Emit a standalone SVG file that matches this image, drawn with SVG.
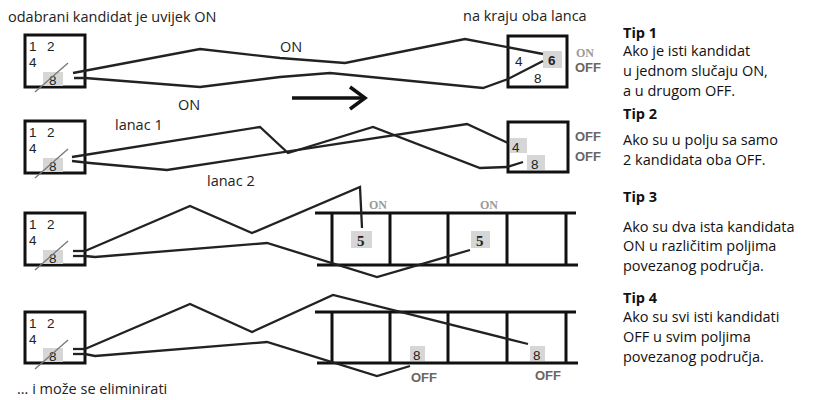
<svg xmlns="http://www.w3.org/2000/svg" width="814" height="400" viewBox="0 0 814 400">
<style>
.lbl{font-family:"Open Sans","Noto Sans",sans-serif;font-size:14.5px;fill:#222}
.tip{font-family:"Open Sans","Noto Sans",sans-serif;font-size:14.5px;fill:#111}
.tipb{font-family:"Open Sans","Noto Sans",sans-serif;font-size:14.5px;font-weight:bold;fill:#111}
.box{fill:#fff;stroke:#111;stroke-width:3}
.dig{font-family:"Liberation Sans",Arial,sans-serif;font-size:13.5px;fill:#222}
.hl{fill:#d6d6d6}
.slash{stroke:#777;stroke-width:1.3}
.ln{fill:none;stroke:#222;stroke-width:2.3;stroke-linejoin:miter}
.grid{stroke:#111;stroke-width:3}
.on{font-family:"Liberation Serif",serif;font-size:12px;font-weight:bold;fill:#9a9a9a}
.off{font-family:"Liberation Sans",Arial,sans-serif;font-size:13px;font-weight:bold;fill:#666}
.five{font-family:"Liberation Serif",serif;font-size:15px;font-weight:bold;fill:#222}
</style>

<text class="lbl" x="8" y="22" font-size="14">odabrani kandidat je uvijek ON</text>
<text class="lbl" x="463" y="21" font-size="14">na kraju oba lanca</text>
<text class="lbl" x="280" y="52">ON</text>
<text class="lbl" x="178" y="110">ON</text>
<text class="lbl" x="115" y="130">lanac 1</text>
<text class="lbl" x="207" y="186">lanac 2</text>
<text class="lbl" x="17" y="394" font-size="15">... i može se eliminirati</text>

<!-- left boxes -->
<g id="box1">
<rect class="box" x="25" y="35" width="60" height="52"/>
<text class="dig" x="29" y="51">1</text><text class="dig" x="47" y="51">2</text>
<text class="dig" x="29" y="66.5">4</text>
<rect class="hl" x="43" y="72" width="20" height="14"/>
<text class="dig" x="49" y="85">8</text>
<line class="slash" x1="35" y1="92" x2="68" y2="63"/>
</g>
<g id="box2">
<rect class="box" x="25" y="121" width="60" height="52"/>
<text class="dig" x="29" y="137">1</text><text class="dig" x="47" y="137">2</text>
<text class="dig" x="29" y="152.5">4</text>
<rect class="hl" x="43" y="158" width="20" height="14"/>
<text class="dig" x="49" y="171">8</text>
<line class="slash" x1="35" y1="178" x2="68" y2="149"/>
</g>
<g id="box3">
<rect class="box" x="25" y="213" width="60" height="52"/>
<text class="dig" x="29" y="229">1</text><text class="dig" x="47" y="229">2</text>
<text class="dig" x="29" y="244.5">4</text>
<rect class="hl" x="43" y="250" width="20" height="14"/>
<text class="dig" x="49" y="263">8</text>
<line class="slash" x1="35" y1="270" x2="68" y2="241"/>
</g>
<g id="box4">
<rect class="box" x="25" y="312" width="60" height="51"/>
<text class="dig" x="29" y="328">1</text><text class="dig" x="47" y="328">2</text>
<text class="dig" x="29" y="343.5">4</text>
<rect class="hl" x="43" y="348" width="20" height="14"/>
<text class="dig" x="49" y="361">8</text>
<line class="slash" x1="35" y1="369" x2="68" y2="340"/>
</g>

<!-- right boxes -->
<g id="endbox1">
<rect class="box" x="508" y="36" width="59" height="51"/>
<text class="dig" x="515" y="66">4</text>
<rect class="hl" x="543" y="51" width="19" height="17"/>
<text class="dig" x="548" y="65" font-weight="bold">6</text>
<text class="dig" x="534" y="83">8</text>
<text class="on" x="576" y="57">ON</text>
<text class="off" x="575" y="72">OFF</text>
</g>
<g id="endbox2">
<rect class="box" x="508" y="122" width="60" height="50"/>
<rect class="hl" x="510" y="138" width="17" height="15"/>
<text class="dig" x="512" y="152">4</text>
<rect class="hl" x="527" y="155" width="18" height="15"/>
<text class="dig" x="531" y="169">8</text>
<text class="off" x="575" y="141">OFF</text>
<text class="off" x="575" y="161">OFF</text>
</g>

<!-- grids -->
<g id="grid3">
<line class="grid" x1="315" y1="213" x2="576" y2="213"/>
<line class="grid" x1="317" y1="265" x2="578" y2="265"/>
<line class="grid" x1="332" y1="213" x2="332" y2="265"/>
<line class="grid" x1="390" y1="213" x2="390" y2="265"/>
<line class="grid" x1="448" y1="213" x2="448" y2="265"/>
<line class="grid" x1="507" y1="213" x2="507" y2="265"/>
<line class="grid" x1="566" y1="213" x2="566" y2="265"/>
<rect class="hl" x="351" y="231" width="21" height="17"/>
<text class="five" x="357" y="246">5</text>
<rect class="hl" x="471" y="231" width="19" height="17"/>
<text class="five" x="476" y="246">5</text>
<text class="on" x="369" y="209">ON</text>
<text class="on" x="480" y="209">ON</text>
</g>
<g id="grid4">
<line class="grid" x1="315" y1="312" x2="576" y2="312"/>
<line class="grid" x1="317" y1="363" x2="578" y2="363"/>
<line class="grid" x1="332" y1="312" x2="332" y2="363"/>
<line class="grid" x1="390" y1="312" x2="390" y2="363"/>
<line class="grid" x1="448" y1="312" x2="448" y2="363"/>
<line class="grid" x1="507" y1="312" x2="507" y2="363"/>
<line class="grid" x1="566" y1="312" x2="566" y2="363"/>
<rect class="hl" x="410" y="346" width="15" height="15"/>
<text class="dig" x="413" y="360">8</text>
<rect class="hl" x="530" y="346" width="15" height="15"/>
<text class="dig" x="533" y="360">8</text>
<text class="off" x="411" y="382">OFF</text>
<text class="off" x="535" y="380">OFF</text>
</g>

<g id="connectors">
<!-- row 1 -->
<polyline class="ln" points="73,73 200,49 280,58 345,63 465,39 543,54"/>
<polyline class="ln" points="74,78 85,78 200,87 280,77 330,73 483,88 508,79 543,61"/>
<!-- row 2 -->
<polyline class="ln" points="72,157 260,127 288,153 373,127 480,168 507,167 523,162"/>
<polyline class="ln" points="72,161 90,163 167,170 467,124 508,143"/>
<!-- row 3 -->
<line class="ln" x1="73" y1="251" x2="85" y2="251"/>
<line class="ln" x1="73" y1="256" x2="85" y2="256"/>
<polyline class="ln" points="85,251 190,206 252,233 360,187 362,228"/>
<polyline class="ln" points="85,256 95,257 267,243 377,277 470,250"/>
<!-- row 4 -->
<line class="ln" x1="73" y1="349" x2="85" y2="349"/>
<line class="ln" x1="73" y1="354" x2="85" y2="354"/>
<polyline class="ln" points="85,349 190,304 252,332 333,295 528,344"/>
<polyline class="ln" points="85,354 95,356 267,342 377,376 410,366"/>
<!-- direction arrow -->
<line x1="292" y1="98" x2="364" y2="98" stroke="#111" stroke-width="3.5"/>
<polyline points="350,87 365,98 350,109" fill="none" stroke="#111" stroke-width="3.5"/>
</g>

<!-- tips -->
<text class="tipb" x="623" y="38">Tip 1</text>
<text class="tip" x="623" y="56">Ako je isti kandidat</text>
<text class="tip" x="623" y="76">u jednom slučaju ON,</text>
<text class="tip" x="623" y="96">a u drugom OFF.</text>
<text class="tipb" x="623" y="119">Tip 2</text>
<text class="tip" x="623" y="145">Ako su u polju sa samo</text>
<text class="tip" x="623" y="165">2 kandidata oba OFF.</text>
<text class="tipb" x="623" y="202">Tip 3</text>
<text class="tip" x="623" y="232">Ako su dva ista kandidata</text>
<text class="tip" x="623" y="251">ON u različitim poljima</text>
<text class="tip" x="623" y="271">povezanog područja.</text>
<text class="tipb" x="623" y="303">Tip 4</text>
<text class="tip" x="623" y="322">Ako su svi isti kandidati</text>
<text class="tip" x="623" y="342">OFF u svim poljima</text>
<text class="tip" x="623" y="362">povezanog područja.</text>
</svg>
